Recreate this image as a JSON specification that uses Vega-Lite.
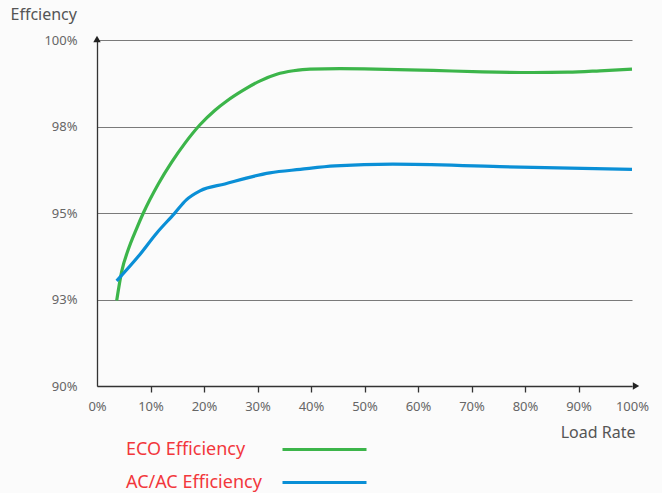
{
  "$schema": "https://vega.github.io/schema/vega-lite/v6.json",
  "width": 535,
  "height": 346,
  "autosize": {"type": "none"},
  "padding": {"left": 97, "top": 40, "right": 30, "bottom": 107},
  "background": "#fbfbfb",
  "config": {"font": "Noto Sans", "view": {"stroke": null}},
  "datasets": {
    "curves": [
      {"series": "ECO Efficiency", "load": 3.68, "eff": 92.47},
      {"series": "ECO Efficiency", "load": 4.6, "eff": 93.3},
      {"series": "ECO Efficiency", "load": 5.86, "eff": 93.95},
      {"series": "ECO Efficiency", "load": 7.4, "eff": 94.55},
      {"series": "ECO Efficiency", "load": 8.66, "eff": 95.0},
      {"series": "ECO Efficiency", "load": 11.46, "eff": 95.84},
      {"series": "ECO Efficiency", "load": 13.96, "eff": 96.47},
      {"series": "ECO Efficiency", "load": 16.45, "eff": 97.02},
      {"series": "ECO Efficiency", "load": 19.25, "eff": 97.55},
      {"series": "ECO Efficiency", "load": 22.06, "eff": 97.97},
      {"series": "ECO Efficiency", "load": 24.2, "eff": 98.23},
      {"series": "ECO Efficiency", "load": 27.35, "eff": 98.55},
      {"series": "ECO Efficiency", "load": 30.5, "eff": 98.82},
      {"series": "ECO Efficiency", "load": 33.6, "eff": 99.01},
      {"series": "ECO Efficiency", "load": 36.7, "eff": 99.11},
      {"series": "ECO Efficiency", "load": 39.8, "eff": 99.16},
      {"series": "ECO Efficiency", "load": 45.4, "eff": 99.17},
      {"series": "ECO Efficiency", "load": 52.0, "eff": 99.16},
      {"series": "ECO Efficiency", "load": 62.8, "eff": 99.12},
      {"series": "ECO Efficiency", "load": 72.0, "eff": 99.08},
      {"series": "ECO Efficiency", "load": 81.5, "eff": 99.06},
      {"series": "ECO Efficiency", "load": 88.0, "eff": 99.07},
      {"series": "ECO Efficiency", "load": 94.0, "eff": 99.11},
      {"series": "ECO Efficiency", "load": 100.0, "eff": 99.16},
      {"series": "AC/AC Efficiency", "load": 3.68, "eff": 93.04},
      {"series": "AC/AC Efficiency", "load": 7.7, "eff": 93.74},
      {"series": "AC/AC Efficiency", "load": 11.1, "eff": 94.41},
      {"series": "AC/AC Efficiency", "load": 14.5, "eff": 94.99},
      {"series": "AC/AC Efficiency", "load": 16.7, "eff": 95.38},
      {"series": "AC/AC Efficiency", "load": 19.25, "eff": 95.64},
      {"series": "AC/AC Efficiency", "load": 23.9, "eff": 95.84},
      {"series": "AC/AC Efficiency", "load": 32.3, "eff": 96.16},
      {"series": "AC/AC Efficiency", "load": 38.0, "eff": 96.26},
      {"series": "AC/AC Efficiency", "load": 44.5, "eff": 96.36},
      {"series": "AC/AC Efficiency", "load": 55.3, "eff": 96.41},
      {"series": "AC/AC Efficiency", "load": 75.3, "eff": 96.34},
      {"series": "AC/AC Efficiency", "load": 100.0, "eff": 96.26}
    ],
    "arrows": [
      {"dir": "up", "load": 0, "eff": 100},
      {"dir": "right", "load": 100, "eff": 90}
    ]
  },
  "encoding": {
    "x": {
      "field": "load",
      "type": "quantitative",
      "scale": {"domain": [0, 100], "nice": false},
      "axis": {
        "values": [0, 10, 20, 30, 40, 50, 60, 70, 80, 90, 100],
        "labelExpr": "datum.value + '%'",
        "title": "Load Rate",
        "grid": false,
        "domainColor": "#333333",
        "domainWidth": 1.3,
        "tickColor": {"condition": {"test": "datum.value == 0 || datum.value == 100", "value": "transparent"}, "value": "#333333"},
        "tickSize": 6,
        "tickWidth": 1.3,
        "labelPadding": 8,
        "labelFontSize": 13,
        "labelColor": "#666666",
        "labelFlush": false,
        "titleFontSize": 16,
        "titleFontWeight": "normal",
        "titleColor": "#555555",
        "titleX": 538,
        "titleY": 46,
        "titleAlign": "right",
        "titleBaseline": "middle"
      }
    },
    "y": {
      "field": "eff",
      "type": "quantitative",
      "scale": {"domain": [90, 100], "nice": false, "zero": false},
      "axis": {
        "values": [90, 92.5, 95, 97.5, 100],
        "labelExpr": "format(round(datum.value), 'd') + '%'",
        "ticks": false,
        "labelPadding": 20,
        "labelFontSize": 13,
        "labelColor": "#666666",
        "grid": true,
        "gridColor": "#7a7a7a",
        "gridWidth": 1.2,
        "domainColor": "#333333",
        "domainWidth": 1.3,
        "title": "Effciency",
        "titleAngle": 0,
        "titleX": -87,
        "titleY": -34,
        "titleAlign": "left",
        "titleBaseline": "top",
        "titleFontSize": 16,
        "titleFontWeight": "normal",
        "titleColor": "#555555"
      }
    }
  },
  "layer": [
    {
      "data": {"name": "curves"},
      "transform": [{"filter": "datum.series == 'ECO Efficiency'"}],
      "mark": {"type": "line", "interpolate": "monotone", "strokeWidth": 3.2},
      "encoding": {
        "color": {
          "field": "series",
          "type": "nominal",
          "scale": {"domain": ["ECO Efficiency", "AC/AC Efficiency"], "range": ["#3cb54a", "#0a8fd6"]},
          "legend": {
            "title": null,
            "orient": "none",
            "legendX": 26,
            "legendY": 399,
            "padding": 0,
            "symbolType": "M-4.667,0H4.667",
            "symbolSize": 324,
            "symbolStrokeWidth": 3,
            "symbolOffset": 191,
            "labelOffset": -209,
            "labelAlign": "left",
            "labelFontSize": 18,
            "labelColor": "#f2373c",
            "rowPadding": 13,
            "encode": {
              "symbols": {"update": {"stroke": {"signal": "datum.value == 'ECO Efficiency' ? '#3bb54a' : '#0d5ea8'"}}}
            }
          }
        }
      }
    },
    {
      "data": {"name": "curves"},
      "transform": [{"filter": "datum.series == 'AC/AC Efficiency'"}],
      "mark": {"type": "line", "interpolate": "monotone", "strokeWidth": 3.2},
      "encoding": {
        "color": {"field": "series", "type": "nominal"}
      }
    },
    {
      "data": {"name": "arrows"},
      "transform": [{"filter": "datum.dir == 'up'"}],
      "mark": {"type": "point", "shape": "triangle-up", "filled": true, "color": "#222222", "size": 55, "opacity": 1, "yOffset": -1}
    },
    {
      "data": {"name": "arrows"},
      "transform": [{"filter": "datum.dir == 'right'"}],
      "mark": {"type": "point", "shape": "triangle-right", "filled": true, "color": "#222222", "size": 55, "opacity": 1, "xOffset": 4}
    }
  ]
}
